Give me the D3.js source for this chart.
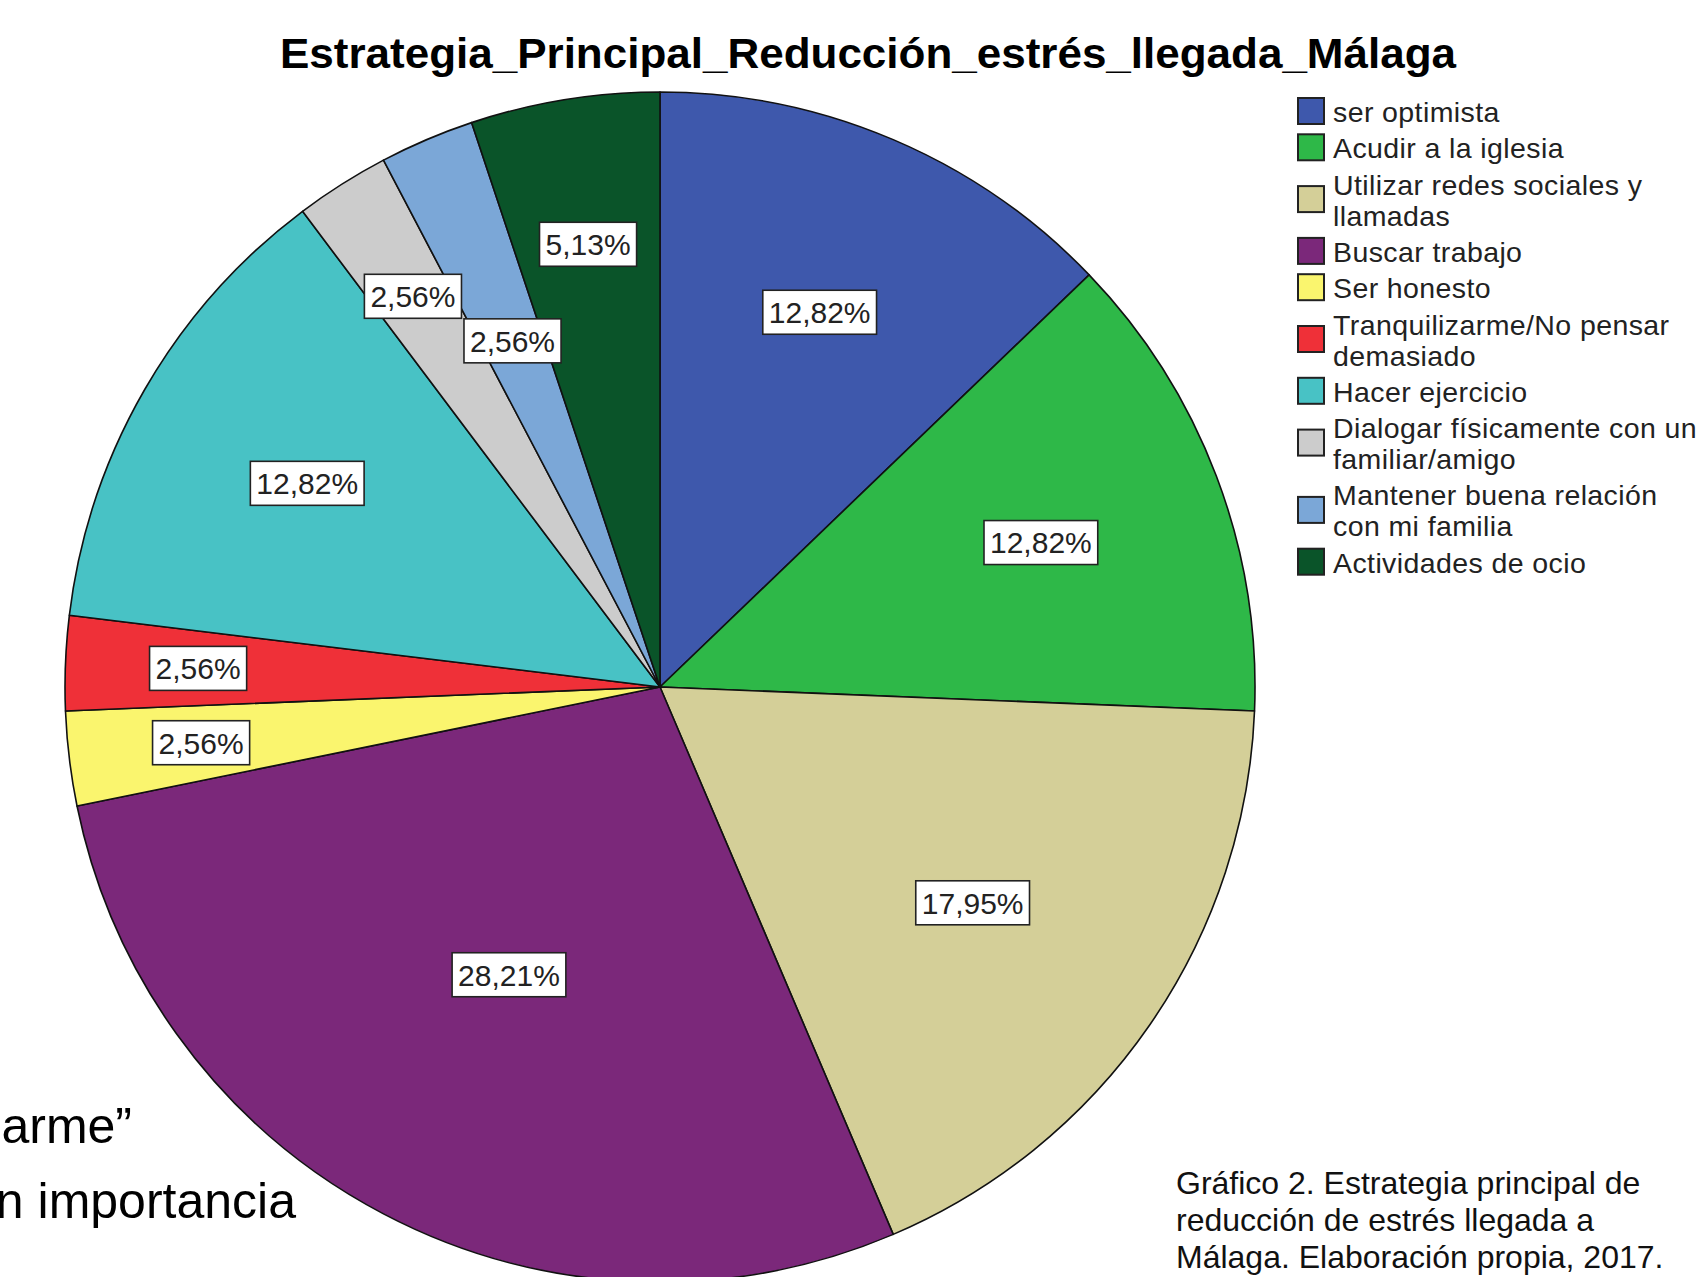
<!DOCTYPE html>
<html>
<head>
<meta charset="utf-8">
<script src="https://cdn.jsdelivr.net/npm/d3@7"></script>
<style>
  html, body { margin: 0; padding: 0; background: #fff; }
  svg { display: block; }
</style>
</head>
<body>
<svg id="chart" width="1700" height="1277"></svg>
<script>
const title = "Estrategia_Principal_Reducción_estrés_llegada_Málaga";
const categories = [
  "ser optimista",
  "Acudir a la iglesia",
  "Utilizar redes sociales y llamadas",
  "Buscar trabajo",
  "Ser honesto",
  "Tranquilizarme/No pensar demasiado",
  "Hacer ejercicio",
  "Dialogar físicamente con un familiar/amigo",
  "Mantener buena relación con mi familia",
  "Actividades de ocio"
];
const counts = [5, 5, 7, 11, 1, 1, 5, 1, 1, 2];
const colors = ["#3E58AC", "#2EB848", "#D4CF98", "#7B287A", "#FAF56E",
                "#EF3038", "#48C2C5", "#CCCCCC", "#7BA7D7", "#0A5429"];
const legendLines = [
  ["ser optimista"],
  ["Acudir a la iglesia"],
  ["Utilizar redes sociales y", "llamadas"],
  ["Buscar trabajo"],
  ["Ser honesto"],
  ["Tranquilizarme/No pensar", "demasiado"],
  ["Hacer ejercicio"],
  ["Dialogar físicamente con un", "familiar/amigo"],
  ["Mantener buena relación", "con mi familia"],
  ["Actividades de ocio"]
];
const captionLines = [
  "Gráfico 2. Estrategia principal de",
  "reducción de estrés llegada a",
  "Málaga. Elaboración propia, 2017."
];
const slideFragments = ["arme\u201D", "n importancia"];

const svg = d3.select("#chart");
svg.append("rect").attr("width", 1700).attr("height", 1277).attr("fill", "#fff");

const font = "'Liberation Sans', Arial, sans-serif";
const cx = 660, cy = 687, R = 595;
const total = d3.sum(counts);

// slide text fragments (behind pie)
const frag = svg.append("g").attr("font-family", font).attr("font-size", 50).attr("fill", "#000");
frag.append("text").attr("x", 132).attr("y", 1143).attr("text-anchor", "end").text(slideFragments[0]);
frag.append("text").attr("x", 296).attr("y", 1218).attr("text-anchor", "end").text(slideFragments[1]);

// title
svg.append("text")
  .attr("x", 280).attr("y", 68)
  .attr("font-family", font).attr("font-weight", "bold").attr("font-size", 43)
  .attr("fill", "#000")
  .attr("textLength", 1176).attr("lengthAdjust", "spacingAndGlyphs")
  .text(title);

// pie
const pie = d3.pie().sort(null).value(d => d)(counts);
const arc = d3.arc().innerRadius(0).outerRadius(R);
const g = svg.append("g").attr("transform", `translate(${cx},${cy})`);
g.selectAll("path.slice").data(pie).join("path")
  .attr("class", "slice")
  .attr("d", arc)
  .attr("fill", (d, i) => colors[i])
  .attr("stroke", "#111").attr("stroke-width", 1.6).attr("stroke-linejoin", "round");

// labels with simple collision avoidance (move inward)
const fmt = v => (v / total * 100).toFixed(2).replace(".", ",") + "%";
const placed = [];
const H = 44;
pie.forEach((d, i) => {
  const pct = d.value / total * 100;
  let rl = R * (0.8 - 0.009 * pct);
  const a = (d.startAngle + d.endAngle) / 2;
  const lg = g.append("g");
  const rect = lg.append("rect");
  const t = lg.append("text")
    .attr("font-family", font).attr("font-size", 30).attr("fill", "#222")
    .attr("text-anchor", "middle").attr("dy", "0.36em")
    .text(fmt(d.value));
  const w = t.node().getComputedTextLength() + 12;
  const overlaps = (x, y) => placed.some(p =>
    Math.abs(p.x - x) < (p.w + w) / 2 + 2 && Math.abs(p.y - y) < H + 2);
  let x = rl * Math.sin(a), y = -rl * Math.cos(a);
  while (overlaps(x, y) && rl > R * 0.3) {
    rl -= 2;
    x = rl * Math.sin(a); y = -rl * Math.cos(a);
  }
  placed.push({ x, y, w });
  lg.attr("transform", `translate(${x},${y})`);
  rect.attr("x", -w / 2).attr("y", -H / 2).attr("width", w).attr("height", H)
    .attr("fill", "#fff").attr("stroke", "#222").attr("stroke-width", 1.6);
});

// legend
const leg = svg.append("g").attr("font-family", font).attr("font-size", 28.5).attr("fill", "#222");
let base = 122;
legendLines.forEach((lines, i) => {
  const first = base;
  lines.forEach((ln, j) => {
    leg.append("text").attr("x", 1333).attr("y", base + j * 31)
      .attr("fill", "#222").attr("letter-spacing", 0.4).text(ln);
  });
  const last = base + (lines.length - 1) * 31;
  const mid = (first + last) / 2 - 11;
  leg.append("rect").attr("x", 1298).attr("y", mid - 13).attr("width", 26).attr("height", 26)
    .attr("fill", colors[i]).attr("stroke", "#222").attr("stroke-width", 2);
  base = last + 36.3;
});

// caption
const cap = svg.append("g").attr("font-family", font).attr("font-size", 32).attr("fill", "#111");
captionLines.forEach((ln, i) => {
  cap.append("text").attr("x", 1176).attr("y", 1194 + i * 37).text(ln);
});
</script>
</body>
</html>
